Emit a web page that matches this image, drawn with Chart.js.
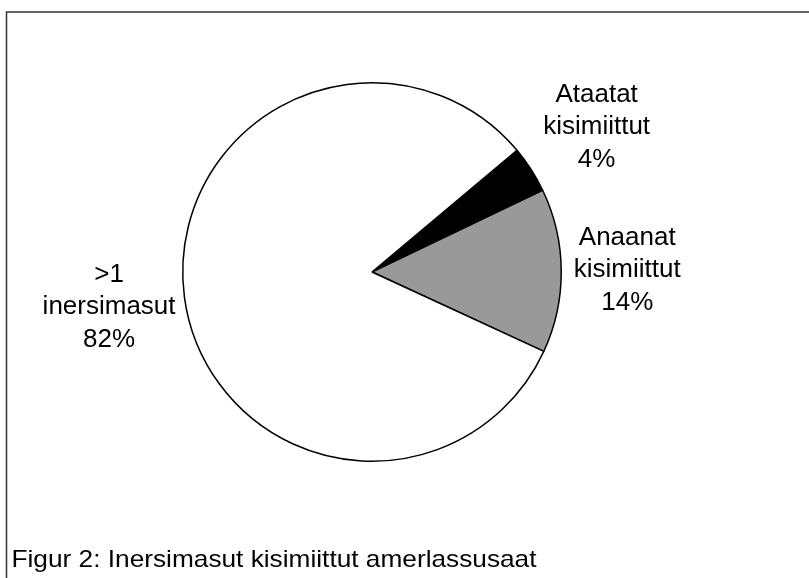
<!DOCTYPE html>
<html>
<head>
<meta charset="utf-8">
<script src="https://cdn.jsdelivr.net/npm/chart.js@4.4.1/dist/chart.umd.min.js"></script>
<style>
  html, body { margin: 0; padding: 0; background: #ffffff; }
  #wrap { position: relative; width: 809px; height: 578px; }
</style>
</head>
<body>
<div id="wrap"><canvas id="c" width="809" height="578"></canvas></div>
<script>
// ---- data ----
const categories = ["Ataatat kisimiittut", "Anaanat kisimiittut", ">1 inersimasut"];
const labelLines = [["Ataatat", "kisimiittut", "4%"], ["Anaanat", "kisimiittut", "14%"], [">1", "inersimasut", "82%"]];
const values = [4, 14, 82];
const sliceColors = ["#000000", "#999999", "#ffffff"];
const captionText = "Figur 2: Inersimasut kisimiittut amerlassusaat";

// distance of each label block centre beyond the pie edge (px)
const labelGap = [78, 66, 76];

const framePlugin = {
  id: 'frame',
  beforeDraw(chart) {
    const ctx = chart.ctx;
    ctx.save();
    ctx.fillStyle = '#ffffff';
    ctx.fillRect(0, 0, chart.width, chart.height);
    ctx.strokeStyle = '#333333';
    ctx.lineWidth = 1.5;
    ctx.beginPath();
    ctx.moveTo(6.5, chart.height + 5);
    ctx.lineTo(6.5, 12);
    ctx.lineTo(chart.width + 5, 12);
    ctx.stroke();
    ctx.restore();
  }
};

const labelPlugin = {
  id: 'sliceLabels',
  afterDraw(chart) {
    const ctx = chart.ctx;
    const meta = chart.getDatasetMeta(0);
    ctx.save();
    ctx.fillStyle = '#000000';
    ctx.font = '26px "Liberation Sans", Arial, sans-serif';
    ctx.textAlign = 'center';
    ctx.textBaseline = 'middle';
    const lh = 32.5;
    meta.data.forEach((arc, i) => {
      const p = arc.getProps(['x', 'y', 'startAngle', 'endAngle', 'outerRadius'], true);
      const mid = (p.startAngle + p.endAngle) / 2;
      const d = p.outerRadius + labelGap[i];
      const cx = p.x + Math.cos(mid) * d;
      const cy = p.y + Math.sin(mid) * d;
      const lines = labelLines[i];
      lines.forEach((t, k) => {
        ctx.fillText(t, cx, cy + (k - (lines.length - 1) / 2) * lh);
      });
    });
    // caption
    ctx.textAlign = 'left';
    ctx.textBaseline = 'alphabetic';
    ctx.font = '24px "Liberation Sans", Arial, sans-serif';
    const w = ctx.measureText(captionText).width;
    ctx.translate(11.5, 566.5);
    ctx.scale(525 / w, 1);
    ctx.fillText(captionText, 0, 0);
    ctx.restore();
  }
};

new Chart(document.getElementById('c'), {
  type: 'pie',
  data: {
    labels: categories,
    datasets: [{
      data: values,
      backgroundColor: sliceColors,
      borderColor: '#000000',
      borderWidth: 1.5,
      borderAlign: 'center'
    }]
  },
  options: {
    responsive: false,
    animation: false,
    rotation: 50,
    layout: { padding: { left: 182, right: 247, top: 82, bottom: 116 } },
    plugins: {
      legend: { display: false },
      tooltip: { enabled: false },
      title: { display: false }
    }
  },
  plugins: [framePlugin, labelPlugin]
});
</script>
</body>
</html>
